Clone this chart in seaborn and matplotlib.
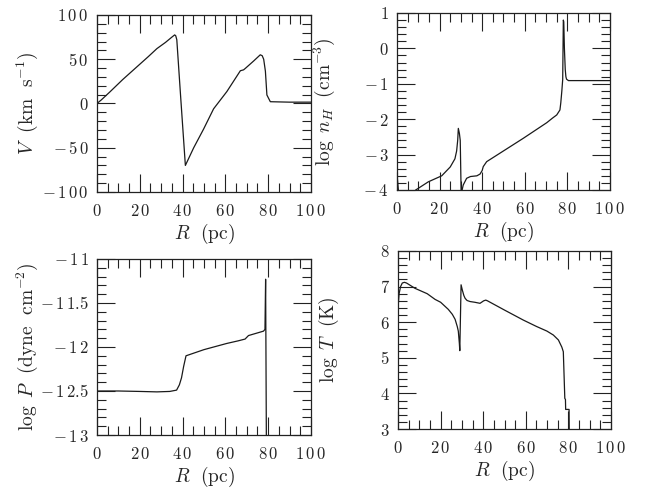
import matplotlib
matplotlib.use("Agg")
import matplotlib.pyplot as plt
from matplotlib.ticker import MultipleLocator, FuncFormatter
import seaborn as sns
import pandas as pd

# ---- data ----
R_v = [0, 2, 6, 12, 18, 24, 28, 32, 35, 36.3, 36.8, 37.3, 39.0, 41.3, 45.2, 49.8,
       54.5, 60.7, 67.0, 68.5, 69.3, 73.2, 76.3, 77.2, 77.9, 78.7, 79.4, 81.0, 90, 100]
V = [0, 4, 13, 27, 40, 53, 62, 69, 75, 77.5, 76.5, 72, 11, -70, -50, -29,
     -6, 13.5, 37, 38, 39.6, 48, 55, 54, 50, 36.5, 9.6, 2, 1.5, 1.5]

R_n = [0, 0.8, 4, 8.8, 14.7, 21, 25, 27.2, 28.0, 28.5, 28.8, 29.3, 29.7, 30.1, 30.4,
       31.1, 32.7, 34.5, 37.5, 39.0, 40.0, 40.5, 42.1, 59.3, 70.3, 73, 75, 76.5, 76.9,
       77.4, 77.8, 78.1, 78.3, 78.6, 79.0, 79.3, 79.6, 80.5, 100]
logn = [-3.55, -4.1, -4.3, -4.0, -3.77, -3.6, -3.35, -3.12, -2.9, -2.6, -2.26, -2.4,
        -2.6, -4.0, -4.05, -3.86, -3.67, -3.62, -3.6, -3.55, -3.45, -3.34, -3.2, -2.54,
        -2.1, -1.97, -1.88, -1.74, -1.54, -1.2, -0.88, 0.8, 0.75, 0.0, -0.6, -0.8, -0.87,
        -0.91, -0.91]

R_p = [0, 10, 20, 28, 34, 37.2, 38.5, 39.5, 40.5, 41.6, 50, 60.6, 66, 69.2, 70.8, 75,
       77.8, 78.5, 78.8, 79.2, 80, 100]
logP = [-12.5, -12.5, -12.505, -12.51, -12.505, -12.49, -12.43, -12.35, -12.22, -12.1,
        -12.03, -11.96, -11.93, -11.91, -11.87, -11.84, -11.82, -11.8, -11.23, -13.3,
        -13.3, -13.3]

R_t = [0, 0.5, 1.2, 2.0, 3.0, 4, 8, 13.7, 17.4, 20, 23.6, 25.5, 26.8, 27.8, 28.3, 28.8,
       29.0, 29.6, 30.2, 30.9, 31.5, 32.4, 33.8, 36, 38.5, 40.2, 41.2, 42, 50, 58.8, 65,
       69.9, 72.9, 75.3, 76.9, 77.6, 78.3, 78.6, 78.7, 80.3, 80.4, 100]
logT = [6.4, 6.8, 7.0, 7.1, 7.12, 7.1, 6.95, 6.8, 6.64, 6.56, 6.36, 6.22, 6.08, 5.88,
        5.75, 5.4, 5.2, 7.05, 6.9, 6.75, 6.67, 6.61, 6.58, 6.56, 6.53, 6.6, 6.62, 6.6,
        6.34, 6.06, 5.88, 5.75, 5.64, 5.5, 5.3, 5.17, 3.86, 3.83, 3.55, 3.55, 2.8, 2.8]

sns.set_style("ticks")
plt.rcParams.update({
    "font.family": ["DejaVu Serif"],
    "mathtext.fontset": "cm",
    "axes.linewidth": 0.9,
})

fig = plt.figure(figsize=(6.54, 4.88), dpi=100)

panels = [
    # (rect, x, y, ylim, ymajor, yminor, ylabel, label_x)
    ([0.1483, 0.6066, 0.3272, 0.3627], R_v, V, (-100, 100), 50, 10,
     r"$V\ \ (\mathrm{km\ \ s^{-1}})$", -0.267),
    ([0.6070, 0.6107, 0.3257, 0.3627], R_n, logn, (-4, 1), 1, 0.2,
     r"$\log\ n_H\ \ (\mathrm{cm^{-3}})$", -0.28),
    ([0.1483, 0.1086, 0.3272, 0.3607], R_p, logP, (-13, -11), 0.5, 0.1,
     r"$\log\ P\ \ (\mathrm{dyne\ \ cm^{-2}})$", -0.267),
    ([0.6086, 0.1209, 0.3257, 0.3648], R_t, logT, (3, 8), 1, 0.2,
     r"$\log\ T\ \ (\mathrm{K})$", -0.27),
]


def tick_fmt(v, p):
    s = f"{v:g}"
    out = ""
    for i, ch in enumerate(s):
        out += ch
        if i < len(s) - 1 and ch != "." and s[i + 1] != ".":
            out += r"\,"
    return f"${out}$"


fmt = FuncFormatter(tick_fmt)

for rect, xs, ys, ylim, ymaj, ymin, ylab, lx in panels:
    ax = fig.add_axes(rect)
    df = pd.DataFrame({"R": xs, "val": ys})
    sns.lineplot(data=df, x="R", y="val", ax=ax, sort=False, estimator=None,
                 color="#1a1a1a", linewidth=0.9)
    ax.set_xlim(0, 100)
    ax.set_ylim(*ylim)
    ax.xaxis.set_major_locator(MultipleLocator(20))
    ax.xaxis.set_minor_locator(MultipleLocator(5))
    ax.yaxis.set_major_locator(MultipleLocator(ymaj))
    ax.yaxis.set_minor_locator(MultipleLocator(ymin))
    ax.xaxis.set_major_formatter(fmt)
    ax.yaxis.set_major_formatter(fmt)
    ax.tick_params(which="both", direction="in", top=True, right=True,
                   width=0.8, color="#222222")
    ax.tick_params(which="major", length=13)
    ax.tick_params(which="minor", length=6.5)
    ax.tick_params(axis="x", which="major", pad=8, labelsize=12)
    ax.tick_params(axis="y", which="major", pad=6, labelsize=12)
    ax.set_xlabel(r"$R\ \ (\mathrm{pc})$", fontsize=14, labelpad=1)
    ax.set_ylabel(ylab, fontsize=14)
    ax.yaxis.set_label_coords(lx, 0.5)
    for s in ax.spines.values():
        s.set_color("#222222")

fig.savefig("out.png", dpi=100)
